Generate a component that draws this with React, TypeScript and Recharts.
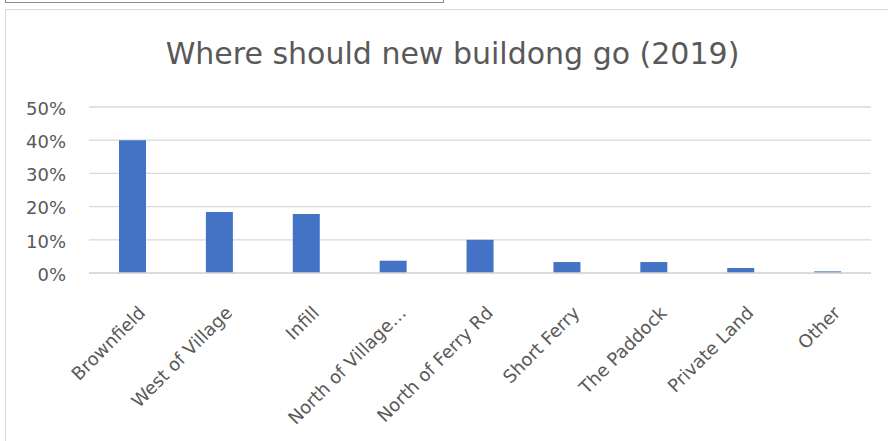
import React from 'react';
import { BarChart, Bar, XAxis, YAxis, CartesianGrid } from 'recharts';

const categories = [
  'Brownfield',
  'West of Village',
  'Infill',
  'North of Village…',
  'North of Ferry Rd',
  'Short Ferry',
  'The Paddock',
  'Private Land',
  'Other',
];
const shares = [0.4, 0.184, 0.178, 0.037, 0.1, 0.033, 0.033, 0.015, 0.005];
const yTicks = [0, 0.1, 0.2, 0.3, 0.4, 0.5];

const data = categories.map((name, i) => ({ name, share: shares[i] }));

const FONT = '"DejaVu Sans", sans-serif';
const TEXT = '#595959';

const AngledTick = (props: any) => {
  const { x, y, payload } = props;
  return (
    <g transform={`translate(${x + 14},${y + 33})`}>
      <text
        transform="rotate(-45)"
        textAnchor="end"
        fill={TEXT}
        fontSize={18}
        fontFamily={FONT}
      >
        {payload.value}
      </text>
    </g>
  );
};

const App: React.FC = () => {
  return (
    <div style={{ position: 'absolute', left: 0, top: 0, width: 888, height: 441, background: '#fff', overflow: 'hidden' }}>
      {/* bottom edge of the chart above */}
      <div style={{ position: 'absolute', left: 5, top: -2, width: 437, height: 4, border: '1px solid #8c8c8c', borderTop: 'none' }} />
      {/* this chart's frame */}
      <div style={{ position: 'absolute', left: 5, top: 9, width: 900, height: 450, border: '1px solid #d9d9d9', boxSizing: 'border-box' }} />
      <svg style={{ position: 'absolute', left: 0, top: 0 }} width={888} height={100}>
        <text x={452.5} y={64} textAnchor="middle" fill={TEXT} fontSize={30} fontFamily={FONT}>
          Where should new buildong go (2019)
        </text>
      </svg>
      <div style={{ position: 'absolute', left: 0, top: 0 }}>
        <BarChart
          width={888}
          height={441}
          data={data}
          margin={{ top: 107, right: 17, bottom: 0, left: 0 }}
        >
          <CartesianGrid vertical={false} stroke="#d9d9d9" strokeWidth={1.3} />
          <XAxis
            dataKey="name"
            interval={0}
            height={168}
            tickLine={false}
            axisLine={{ stroke: '#d9d9d9', strokeWidth: 1.3 }}
            tick={<AngledTick />}
          />
          <YAxis
            width={89}
            domain={[0, 0.5]}
            ticks={yTicks}
            tickLine={false}
            axisLine={false}
            tickMargin={17}
            tickFormatter={(v: number) => `${Math.round(v * 100)}%`}
            tick={{ fill: TEXT, fontSize: 18, fontFamily: FONT, dy: 1.5 }}
          />
          <Bar dataKey="share" fill="#4472C4" barSize={27} isAnimationActive={false} />
        </BarChart>
      </div>
    </div>
  );
};

export default App;
